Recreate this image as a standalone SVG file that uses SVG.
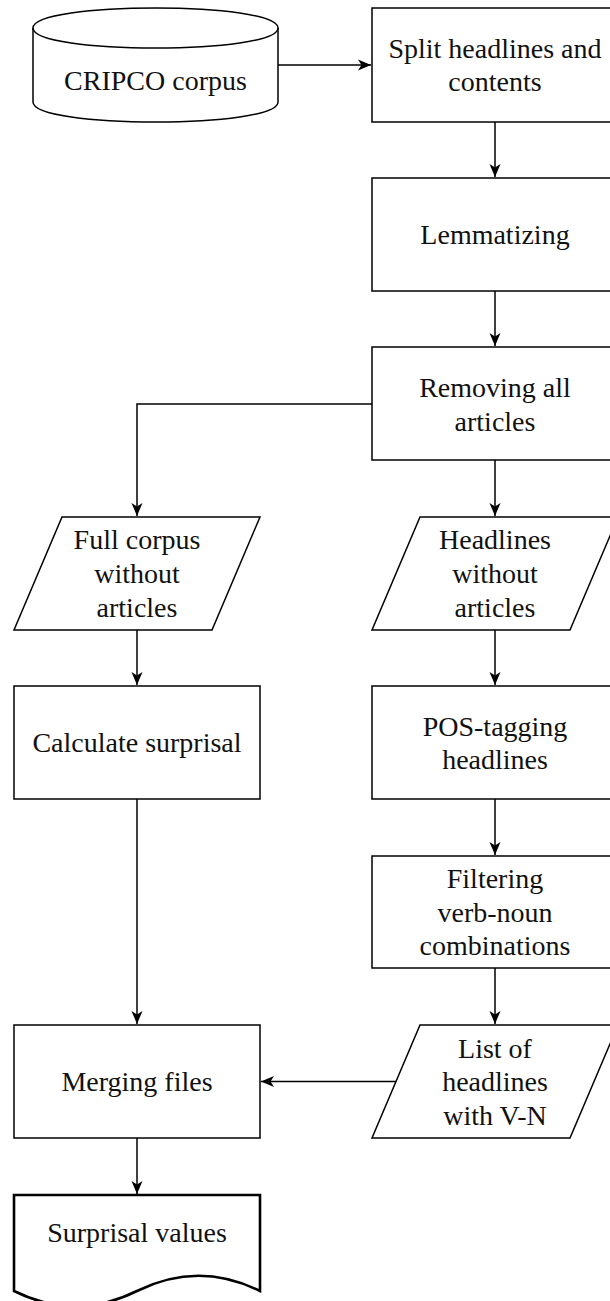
<svg xmlns="http://www.w3.org/2000/svg" width="610" height="1301" viewBox="0 0 610 1301">
<style>
.s{fill:#fff;stroke:#000;stroke-width:1.5}
.d{fill:#fff;stroke:#000;stroke-width:2.6}
.c{fill:none;stroke:#000;stroke-width:1.5}
text{font-family:"Liberation Serif","Times New Roman",serif;font-size:28px;fill:#111;text-anchor:middle}
</style>
<defs>
<marker id="ah" markerUnits="userSpaceOnUse" markerWidth="16" markerHeight="14" refX="13" refY="6" orient="auto">
<path d="M0,0.5 L13,6 L0,11.5 L3.5,6 Z" fill="#000"/>
</marker>
</defs>
<rect width="610" height="1301" fill="#fff"/>
<g id="connectors">
<path class="c" d="M278,65 L371,65" marker-end="url(#ah)"/>
<path class="c" d="M495,122 L495,177" marker-end="url(#ah)"/>
<path class="c" d="M495,291 L495,346" marker-end="url(#ah)"/>
<path class="c" d="M495,460 L495,516" marker-end="url(#ah)"/>
<path class="c" d="M372,404 L137,404 L137,516" marker-end="url(#ah)"/>
<path class="c" d="M137,630 L137,685" marker-end="url(#ah)"/>
<path class="c" d="M495,630 L495,685" marker-end="url(#ah)"/>
<path class="c" d="M495,799 L495,855" marker-end="url(#ah)"/>
<path class="c" d="M495,968 L495,1024" marker-end="url(#ah)"/>
<path class="c" d="M137,799 L137,1024" marker-end="url(#ah)"/>
<path class="c" d="M396,1081.5 L261,1081.5" marker-end="url(#ah)"/>
<path class="c" d="M137,1138 L137,1194" marker-end="url(#ah)"/>
</g>
<g id="n-corpus">
<path class="s" d="M33,28 C33,1.3 278,1.3 278,28 L278,102 C278,128.7 33,128.7 33,102 Z"/>
<path class="c" d="M33,28 C33,54.7 278,54.7 278,28"/>
<text x="155.5" y="90">CRIPCO corpus</text>
</g>
<g id="n-split">
<rect class="s" x="372" y="8" width="246" height="114"/>
<text x="495" y="57.7">Split headlines and</text>
<text x="495" y="91.3">contents</text>
</g>
<g id="n-lemma">
<rect class="s" x="372" y="178" width="246" height="113"/>
<text x="495" y="244">Lemmatizing</text>
</g>
<g id="n-remove">
<rect class="s" x="372" y="347" width="246" height="113"/>
<text x="495" y="396.5">Removing all</text>
<text x="495" y="430.5">articles</text>
</g>
<g id="n-full">
<polygon class="s" points="62,517 260,517 212,630 14,630"/>
<text x="137" y="549">Full corpus</text>
<text x="137" y="583">without</text>
<text x="137" y="617">articles</text>
</g>
<g id="n-headl">
<polygon class="s" points="420,517 618,517 570,630 372,630"/>
<text x="495" y="549">Headlines</text>
<text x="495" y="583">without</text>
<text x="495" y="617">articles</text>
</g>
<g id="n-calc">
<rect class="s" x="14" y="686" width="246" height="113"/>
<text x="137" y="752">Calculate surprisal</text>
</g>
<g id="n-pos">
<rect class="s" x="372" y="686" width="246" height="113"/>
<text x="495" y="735.5">POS-tagging</text>
<text x="495" y="769">headlines</text>
</g>
<g id="n-filter">
<rect class="s" x="372" y="856" width="246" height="112"/>
<text x="495" y="888">Filtering</text>
<text x="495" y="921.5">verb-noun</text>
<text x="495" y="955">combinations</text>
</g>
<g id="n-list">
<polygon class="s" points="420,1025 618,1025 570,1138 372,1138"/>
<text x="495" y="1057.5">List of</text>
<text x="495" y="1091">headlines</text>
<text x="495" y="1124.5">with V-N</text>
</g>
<g id="n-merge">
<rect class="s" x="14" y="1025" width="246" height="113"/>
<text x="137" y="1091">Merging files</text>
</g>
<g id="n-values">
<path class="d" d="M14,1195 L260,1195 L260,1291 Q198.5,1260.5 137,1291 Q75.5,1321.5 14,1291 Z"/>
<text x="137" y="1242">Surprisal values</text>
</g>
</svg>
